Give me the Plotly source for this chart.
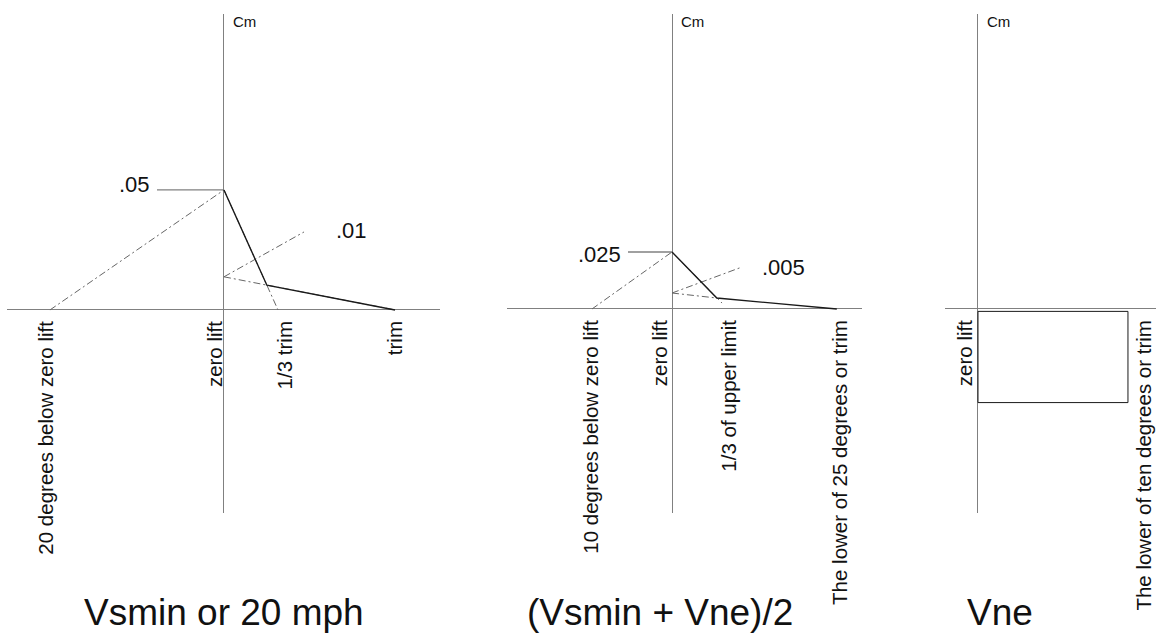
import plotly.graph_objects as go

# ---------------- data (angle in degrees, pitching moment coefficient Cm) -------------
# Panel 1: Vsmin or 20 mph
p1_rise_x, p1_rise_y = [-20, 0], [0, 0.05]
p1_drop_x, p1_drop_y = [0, 6.21], [0.05, 0]
p1_tail_x, p1_tail_y = [0, 19.66], [0.0138, 0]
p1_slope_x, p1_slope_y = [0, 9.2], [0.0138, 0.0325]
p1_env_x, p1_env_y = [0, 4.93, 19.66], [0.05, 0.0103, 0]
p1_ref_x, p1_ref_y = [-7.7, 0], [0.05, 0.05]
p1_tick_x = [-20.4, -1.0, 7.1, 19.7]
p1_tick_text = ["20 degrees below zero lift", "zero lift", "1/3 trim", "trim"]
p1_value_labels = [".05", ".01"]
p1_value_x = [-8.3, 12.6]
p1_value_y = [0.05, 0.031]

# Panel 2: (Vsmin + Vne)/2
p2_rise_x, p2_rise_y = [-10, 0], [0, 0.025]
p2_drop_x, p2_drop_y = [0, 6.25], [0.025, 0.0026]
p2_tail_x, p2_tail_y = [0, 5.6], [0.007, 0.0048]
p2_slope_x, p2_slope_y = [0, 8.75], [0.007, 0.0184]
p2_env_x, p2_env_y = [0, 5.6, 20.6], [0.025, 0.0048, 0]
p2_ref_x, p2_ref_y = [-5.5, 0], [0.025, 0.025]
p2_tick_x = [-10.1, -1.4, 7.2, 21.0]
p2_tick_text = ["10 degrees below zero lift", "zero lift", "1/3 of upper limit",
                "The lower of 25 degrees or trim"]
p2_value_labels = [".025", ".005"]
p2_value_x = [-6.1, 11.0]
p2_value_y = [0.0237, 0.0184]

# Panel 3: Vne
p3_box_x = [0, 10, 10, 0, 0]
p3_box_y = [-0.001, -0.001, -0.039, -0.039, -0.001]
p3_tick_x = [-0.85, 11.1]
p3_tick_text = ["zero lift", "The lower of ten degrees or trim"]

titles = ["Vsmin or 20 mph", "(Vsmin + Vne)/2", "Vne"]
title_x = [0, -1.5, 1.5]

# ---------------- layout geometry -------------
W, H = 1156, 633
FONT = "Liberation Sans, Arial, sans-serif"
AXIS_COL = "#808080"
DASH_COL = "#666666"
ENV_COL = "#1a1a1a"
DASH = "7px,3px,2px,3px"

def px_x(p):
    return p / W

def px_y(p):
    return 1 - p / H

# pixel extents of each panel (left, right) and data ranges
panels = [
    dict(dom_x=(7, 440), xr=[-24.94, 24.83], yr=[-0.0846, 0.1233]),
    dict(dom_x=(507, 862), xr=[-20.625, 23.75], yr=[-0.0895, 0.1294]),
    dict(dom_x=(945, 1156), xr=[-2.2, 11.87], yr=[-0.0850, 0.1229]),
]
TOP, BOT = 14, 513

fig = go.Figure()

def add_line(xs, ys, n, color, width, dash="solid"):
    fig.add_trace(go.Scatter(
        x=xs, y=ys, mode="lines", xaxis="x" + ("" if n == 1 else str(n)),
        yaxis="y" + ("" if n == 1 else str(n)),
        line=dict(color=color, width=width, dash=dash),
        hoverinfo="skip", showlegend=False))

# panel 1
add_line(p1_ref_x, p1_ref_y, 1, AXIS_COL, 1.3)
add_line(p1_rise_x, p1_rise_y, 1, DASH_COL, 1, DASH)
add_line(p1_drop_x, p1_drop_y, 1, DASH_COL, 1, DASH)
add_line(p1_tail_x, p1_tail_y, 1, DASH_COL, 1, DASH)
add_line(p1_slope_x, p1_slope_y, 1, DASH_COL, 1, DASH)
add_line(p1_env_x, p1_env_y, 1, ENV_COL, 1.4)
# panel 2
add_line(p2_ref_x, p2_ref_y, 2, AXIS_COL, 1.3)
add_line(p2_rise_x, p2_rise_y, 2, DASH_COL, 1, DASH)
add_line(p2_drop_x, p2_drop_y, 2, DASH_COL, 1, DASH)
add_line(p2_tail_x, p2_tail_y, 2, DASH_COL, 1, DASH)
add_line(p2_slope_x, p2_slope_y, 2, DASH_COL, 1, DASH)
add_line(p2_env_x, p2_env_y, 2, ENV_COL, 1.4)
# panel 3
add_line(p3_box_x, p3_box_y, 3, ENV_COL, 1)

tick_sets = [(p1_tick_x, p1_tick_text), (p2_tick_x, p2_tick_text), (p3_tick_x, p3_tick_text)]

layout = dict(
    width=W, height=H, margin=dict(l=0, r=0, t=0, b=0),
    paper_bgcolor="white", plot_bgcolor="white",
    font=dict(family=FONT, color="#111"),
    showlegend=False,
)
annotations = []
for i, p in enumerate(panels):
    n = i + 1
    sx = "" if n == 1 else str(n)
    ydom = (px_y(BOT), px_y(TOP))
    y0, y1 = p["yr"]
    zero_pos = ydom[0] + (0 - y0) / (y1 - y0) * (ydom[1] - ydom[0])
    tv, tt = tick_sets[i]
    layout["xaxis" + sx] = dict(
        domain=[px_x(p["dom_x"][0]), px_x(p["dom_x"][1])], range=p["xr"],
        anchor="free", position=zero_pos,
        showgrid=False, showline=False, ticks="",
        zeroline=True, zerolinecolor=AXIS_COL, zerolinewidth=1.3,
        tickvals=tv, ticktext=tt, tickangle=-90,
        tickfont=dict(size=20.5, family=FONT, color="#111"),
        ticklabelstandoff=6, automargin=False, fixedrange=True,
    )
    layout["yaxis" + sx] = dict(
        domain=list(ydom), range=p["yr"], anchor="x" + sx,
        showgrid=False, showline=False, showticklabels=False, ticks="",
        zeroline=True, zerolinecolor=AXIS_COL, zerolinewidth=1.3,
        automargin=False, fixedrange=True,
    )
    # Cm axis title
    annotations.append(dict(
        text="Cm", xref="x" + sx, yref="paper", x=0, y=px_y(22),
        xanchor="left", yanchor="middle", xshift=7, showarrow=False,
        font=dict(size=15, family=FONT, color="#111")))
    # panel title
    annotations.append(dict(
        text=titles[i], xref="x" + sx, yref="paper", x=title_x[i], y=px_y(612),
        xanchor="center", yanchor="middle", showarrow=False,
        font=dict(size=37, family=FONT, color="#111")))

for txt, x, y in zip(p1_value_labels, p1_value_x, p1_value_y):
    annotations.append(dict(
        text=txt, xref="x", yref="y", x=x, y=y,
        xanchor="right" if x < 0 else "left", yanchor="middle", yshift=5,
        showarrow=False, font=dict(size=22, family=FONT, color="#111")))
for txt, x, y in zip(p2_value_labels, p2_value_x, p2_value_y):
    annotations.append(dict(
        text=txt, xref="x2", yref="y2", x=x, y=y,
        xanchor="right" if x < 0 else "left", yanchor="middle",
        showarrow=False, font=dict(size=22, family=FONT, color="#111")))

layout["annotations"] = annotations
fig.update_layout(**layout)
fig.write_html(
    "out.html",
    config={"displayModeBar": False},
    post_script="document.body.style.margin='0px';document.body.style.overflow='hidden';",
)
